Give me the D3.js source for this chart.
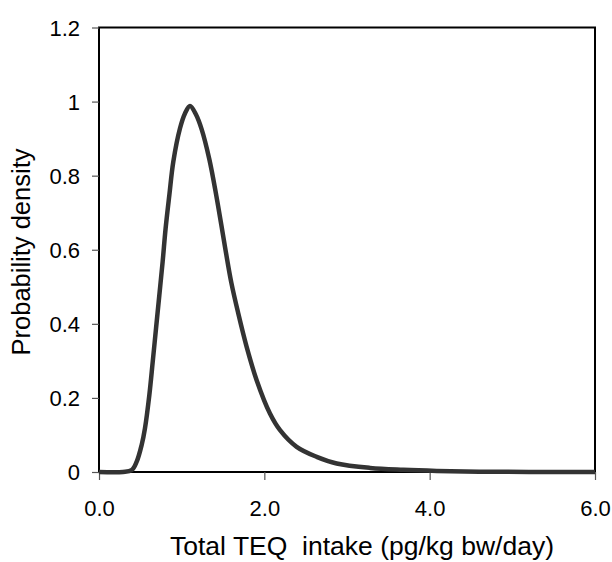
<!DOCTYPE html>
<html><head><meta charset="utf-8">
<script src="https://cdn.jsdelivr.net/npm/d3@7"></script>
<style>body{margin:0;background:#fff}svg{display:block}</style>
</head><body>
<svg id="c" width="612" height="562"></svg>
<script>
const xValues = [0, 0.29, 0.395, 0.456, 0.516, 0.556, 0.609, 0.65, 0.69, 0.73, 0.77, 0.806, 0.851, 0.899, 0.98, 1.04, 1.101, 1.173, 1.242, 1.334, 1.42, 1.524, 1.60, 1.685, 1.786, 1.907, 2.068, 2.19, 2.391, 2.633, 2.875, 3.28, 3.68, 4.085, 4.6, 5.2, 6.0];
const yValues = [0, 0, 0.005, 0.028, 0.073, 0.118, 0.208, 0.298, 0.388, 0.478, 0.568, 0.658, 0.748, 0.838, 0.928, 0.968, 0.988, 0.965, 0.925, 0.845, 0.745, 0.608, 0.512, 0.428, 0.338, 0.248, 0.158, 0.113, 0.068, 0.041, 0.023, 0.011, 0.006, 0.003, 0.001, 0, 0];
const xTicks = [0, 2, 4, 6];
const yTicks = [0, 0.2, 0.4, 0.6, 0.8, 1, 1.2];
const xTitle = "Total TEQ\u00a0 intake (pg/kg bw/day)";
const yTitle = "Probability density";

const svg = d3.select("#c");
const L = 99, R = 595, T = 27.5, B = 472;
const x = d3.scaleLinear().domain([0, 6]).range([L, R]);
const y = d3.scaleLinear().domain([0, 1.2]).range([B, T]);
const font = "Arial, 'Liberation Sans', sans-serif";

// frame
svg.append("rect").attr("x", L).attr("y", T).attr("width", R - L).attr("height", B - T)
  .attr("fill", "none").attr("stroke", "#000").attr("stroke-width", 2);

// y axis
const ya = svg.append("g").attr("transform", `translate(${L},0)`)
  .call(d3.axisLeft(y).tickValues(yTicks).tickSize(7).tickPadding(12).tickFormat(d => d3.format("")(+d.toFixed(1))));
ya.select(".domain").remove();
ya.selectAll("line").attr("stroke", "#555").attr("stroke-width", 1.2);
ya.selectAll("text").attr("font-family", font).attr("font-size", 22).attr("fill", "#000").attr("dy", "0.35em");

// x axis
const xa = svg.append("g").attr("transform", `translate(0,${B})`)
  .call(d3.axisBottom(x).tickValues(xTicks).tickSize(8).tickPadding(20).tickFormat(d3.format(".1f")));
xa.select(".domain").remove();
xa.selectAll("line").attr("stroke", "#555").attr("stroke-width", 1.2);
xa.selectAll("text").attr("font-family", font).attr("font-size", 22).attr("fill", "#000").attr("dy", "0");
xa.selectAll("text").attr("y", 44);

// curve
const pts = xValues.map((v, i) => [v, yValues[i]]);
svg.append("path").datum(pts)
  .attr("fill", "none").attr("stroke", "#333").attr("stroke-width", 4.5)
  .attr("stroke-linejoin", "round")
  .attr("d", d3.line().x(d => x(d[0])).y(d => Math.min(y(0), y(d[1]))).curve(d3.curveCatmullRom.alpha(0.5)));

// titles
svg.append("text").attr("x", 362).attr("y", 555).attr("text-anchor", "middle")
  .attr("font-family", font).attr("font-size", 26.5).attr("fill", "#000").text(xTitle);
svg.append("text").attr("transform", "translate(30,252) rotate(-90)").attr("text-anchor", "middle")
  .attr("font-family", font).attr("font-size", 25.5).attr("fill", "#000").text(yTitle);
</script>
</body></html>
